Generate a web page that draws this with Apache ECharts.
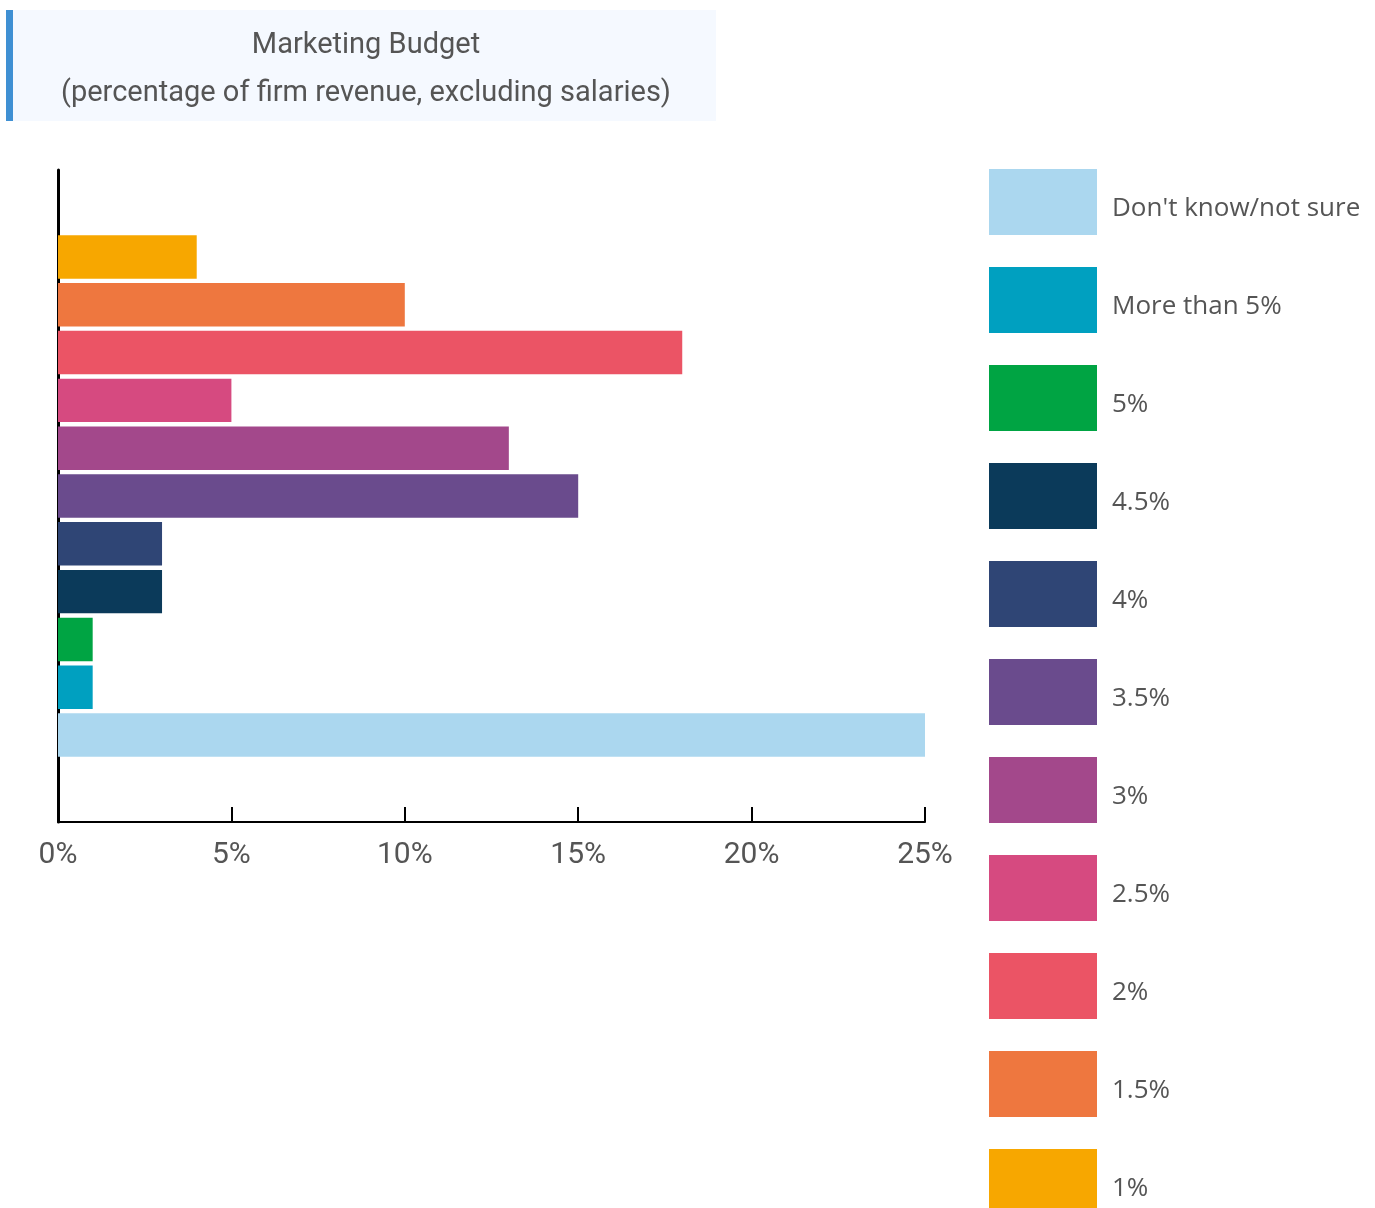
<!DOCTYPE html>
<html>
<head>
<meta charset="utf-8">
<script src="https://cdn.jsdelivr.net/npm/echarts@6/dist/echarts.min.js"></script>
<style>
  html, body { margin: 0; padding: 0; background: #fff; }
  #chart { width: 1375px; height: 1208px; }
</style>
</head>
<body>
<div id="chart"></div>
<script>
// Budget bands, drawn top to bottom
const bands = ['1%', '1.5%', '2%', '2.5%', '3%', '3.5%', '4%', '4.5%', '5%', 'More than 5%', "Don't know/not sure"];
// Share of respondents (%) per band
const shares = [4, 10, 18, 5, 13, 15, 3, 3, 1, 1, 25];
const bandColors = ['#F7A700', '#EE773F', '#EB5465', '#D64A80', '#A3488B', '#6A4B8D', '#2F4575', '#0B3A5A', '#00A443', '#00A0C0', '#ABD7EF'];
// Legend lists the bands in reverse
const legendOrder = bands.slice().reverse();
const xTicks = { min: 0, max: 25, interval: 5 };

const chart = echarts.init(document.getElementById('chart'), null, { renderer: 'canvas' });

const series = bands.map((name, i) => ({
  name: name,
  type: 'bar',
  data: [shares[i]],
  itemStyle: { color: bandColors[i] },
  barCategoryGap: '20%',
  barGap: '10%',
  emphasis: { disabled: true }
}));

chart.setOption({
  animation: false,
  grid: { left: 58, right: 450, top: 170, bottom: 386, containLabel: false },
  graphic: [
    { type: 'rect', shape: { x: 8, y: 10, width: 708, height: 111 }, style: { fill: '#F5F9FF' }, z: 0 },
    { type: 'rect', shape: { x: 6, y: 10, width: 7, height: 111 }, style: { fill: '#3F90D3' }, z: 1 },
    { type: 'text', x: 366, y: 46, style: { text: 'Marketing Budget', font: '29px Roboto', fill: '#555555', textAlign: 'center', textVerticalAlign: 'middle' }, z: 2 },
    { type: 'text', x: 366, y: 94, style: { text: '(percentage of firm revenue, excluding salaries)', font: '29px Roboto', fill: '#555555', textAlign: 'center', textVerticalAlign: 'middle' }, z: 2 }
  ],
  legend: {
    orient: 'vertical',
    left: 989,
    top: 169,
    height: 1200,
    padding: 0,
    itemWidth: 108,
    itemHeight: 66,
    itemGap: 32,
    icon: 'rect',
    selectedMode: false,
    data: legendOrder,
    formatter: (name) => '{t|' + name + '}',
    textStyle: {
      fontFamily: 'Open Sans', fontSize: 26, color: '#555555',
      rich: { t: { fontFamily: 'Open Sans', fontSize: 26, color: '#555555', padding: [14, 0, 0, 10] } }
    }
  },
  xAxis: {
    type: 'value',
    min: xTicks.min,
    max: xTicks.max,
    interval: xTicks.interval,
    splitLine: { show: false },
    axisLine: { show: true, lineStyle: { color: '#000', width: 2 } },
    axisTick: { show: true, inside: true, length: 15, lineStyle: { color: '#000', width: 2 } },
    axisLabel: { formatter: '{value}%', fontFamily: 'Roboto', fontSize: 30, color: '#555555', margin: 18 }
  },
  yAxis: {
    type: 'category',
    data: ['Budget'],
    axisLine: { show: true, lineStyle: { color: '#000', width: 3 } },
    axisTick: { show: false },
    axisLabel: { show: false }
  },
  series: series
});
</script>
</body>
</html>
